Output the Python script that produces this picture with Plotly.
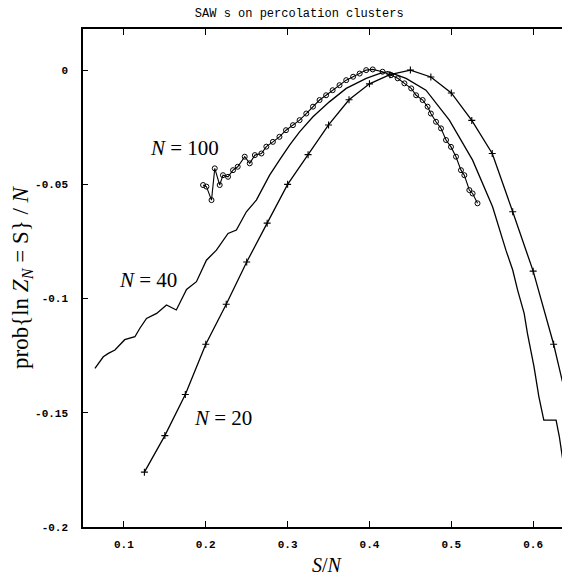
import plotly.graph_objects as go

# N = 20 (plus markers)
n20_x = [0.125, 0.15, 0.175, 0.2, 0.225, 0.25, 0.275, 0.3, 0.325, 0.35, 0.375, 0.4,
         0.425, 0.45, 0.475, 0.5, 0.525, 0.55, 0.575, 0.6, 0.625, 0.65]
n20_y = [-0.176, -0.160, -0.142, -0.120, -0.1025, -0.084, -0.067, -0.050, -0.037, -0.024,
         -0.013, -0.006, -0.002, 0.0, -0.003, -0.010, -0.022, -0.0365, -0.062, -0.088,
         -0.120, -0.158]

# N = 40 (plain line)
n40_x = [0.0646, 0.0748, 0.081, 0.089, 0.101, 0.1134, 0.1195, 0.1276, 0.140, 0.152, 0.164,
         0.1765, 0.1886, 0.2008, 0.213, 0.2272, 0.2374, 0.2496, 0.2618, 0.278, 0.290,
         0.3024, 0.3146, 0.331, 0.351, 0.3716, 0.396, 0.412, 0.4223, 0.4447, 0.469,
         0.4976, 0.526, 0.5504, 0.5667, 0.575, 0.581, 0.589, 0.593, 0.601, 0.607, 0.613,
         0.628, 0.632, 0.638, 0.642, 0.65]
n40_y = [-0.1306, -0.1255, -0.124, -0.1225, -0.118, -0.1167, -0.113, -0.1087, -0.1065,
         -0.1028, -0.105, -0.096, -0.0926, -0.0832, -0.0788, -0.0715, -0.070, -0.062,
         -0.0569, -0.046, -0.0394, -0.0328, -0.027, -0.0204, -0.0139, -0.008, -0.0036,
         -0.0015, -0.0007, -0.0036, -0.0088, -0.0219, -0.0394, -0.0598, -0.0788, -0.0875,
         -0.0963, -0.1065, -0.1152, -0.1298, -0.143, -0.1532, -0.1532, -0.1605, -0.175,
         -0.1743, -0.172]

# N = 100 (open circles)
n100_x = [0.1967, 0.2008, 0.207, 0.211, 0.217, 0.221, 0.2272, 0.2333, 0.239, 0.2476,
          0.2537, 0.26, 0.268, 0.274, 0.282, 0.290, 0.298, 0.3065, 0.3146, 0.3228, 0.331,
          0.339, 0.347, 0.355, 0.3634, 0.3716, 0.38, 0.388, 0.396, 0.404, 0.416, 0.4264,
          0.4345, 0.4427, 0.451, 0.457, 0.465, 0.471, 0.475, 0.4813, 0.4874, 0.4935,
          0.4996, 0.5057, 0.5118, 0.5159, 0.522, 0.526, 0.532]
n100_y = [-0.0503, -0.051, -0.0569, -0.043, -0.0503, -0.046, -0.0467, -0.0438, -0.0423,
          -0.0379, -0.0408, -0.0372, -0.0365, -0.0335, -0.0314, -0.0292, -0.0263, -0.0241,
          -0.0219, -0.019, -0.016, -0.0131, -0.011, -0.0088, -0.0066, -0.0044, -0.0029,
          -0.0015, 0.0, 0.0003, -0.0007, -0.0022, -0.0036, -0.0058, -0.008, -0.011,
          -0.0131, -0.016, -0.019, -0.0226, -0.0255, -0.0306, -0.0336, -0.0379, -0.0438,
          -0.046, -0.0525, -0.054, -0.0583]

x_ticks = [0.1, 0.2, 0.3, 0.4, 0.5, 0.6]
x_tick_text = ["0.1", "0.2", "0.3", "0.4", "0.5", "0.6"]
y_ticks = [0, -0.05, -0.1, -0.15, -0.2]
y_tick_text = ["0", "-0.05", "-0.1", "-0.15", "-0.2"]

labels = [("<i>N</i> = 100", 0.1744, -0.0341), ("<i>N</i> = 40", 0.129, -0.0919),
          ("<i>N</i> = 20", 0.2213, -0.1523)]

fig = go.Figure()
fig.add_trace(go.Scatter(x=n40_x, y=n40_y, mode="lines",
                         line=dict(color="black", width=1.3), showlegend=False))
fig.add_trace(go.Scatter(x=n20_x, y=n20_y, mode="lines+markers",
                         line=dict(color="black", width=1.3),
                         marker=dict(symbol="cross-thin", size=5,
                                     line=dict(color="black", width=1.1)),
                         showlegend=False))
fig.add_trace(go.Scatter(x=n100_x, y=n100_y, mode="lines+markers",
                         line=dict(color="black", width=1.1),
                         marker=dict(symbol="circle-open", size=5, color="black",
                                     line=dict(width=1)),
                         showlegend=False))

for txt, x, y in labels:
    fig.add_annotation(x=x, y=y, text=txt, showarrow=False,
                       font=dict(family="Liberation Serif", size=21, color="black"))

tickfont = dict(family="Liberation Mono", size=11, color="black", weight="bold")
fig.update_xaxes(range=[0.05, 0.645], tickvals=x_ticks, ticktext=x_tick_text,
                 ticks="inside", ticklen=6, tickwidth=1.2, tickcolor="black",
                 showline=True, linecolor="black", linewidth=1.5, mirror="allticks",
                 showgrid=False, zeroline=False, tickfont=tickfont, automargin=False,
                 ticklabelstandoff=6,
                 title=dict(text="<i>S</i>/<i>N</i>", standoff=8,
                            font=dict(family="Liberation Serif", size=20, color="black")))
fig.update_yaxes(range=[-0.2, 0.018], tickvals=y_ticks, ticktext=y_tick_text,
                 ticks="inside", ticklen=5, tickwidth=1.2, tickcolor="black",
                 showline=True, linecolor="black", linewidth=1.5,
                 showgrid=False, zeroline=False, tickfont=tickfont, ticklabelstandoff=11,
                 automargin=False,
                 title=dict(text="prob{ln <i>Z</i><sub><i>N</i></sub> = S} / <i>N</i>",
                            standoff=0,
                            font=dict(family="Liberation Serif", size=23, color="black")))

fig.update_layout(width=570, height=579, margin=dict(l=75, r=8, t=21, b=60, autoexpand=False),
                  plot_bgcolor="white", paper_bgcolor="white",
                  title=dict(text="SAW s on percolation clusters", x=0.511, xanchor="center",
                             y=0.991, yanchor="middle",
                             font=dict(family="Liberation Mono", size=12, color="black")))

fig.write_html("out.html")
